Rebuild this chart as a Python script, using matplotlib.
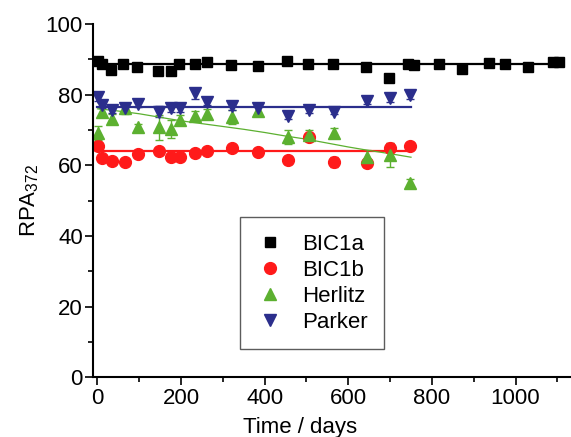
import numpy as np
from matplotlib import pyplot as plt
from matplotlib.ticker import MultipleLocator

plt.rcParams['font.family'] = ['Liberation Sans', 'DejaVu Sans']
plt.rcParams['mathtext.fontset'] = 'custom'
plt.rcParams['mathtext.rm'] = 'Liberation Sans'
plt.rcParams['mathtext.it'] = 'Liberation Sans'

# BIC1a (black squares)
a_days = [2, 10, 33, 62, 94, 144, 175, 196, 233, 261, 320, 384, 453, 504,
          564, 642, 698, 744, 757, 817, 871, 936, 976, 1030, 1090, 1105]
a_rpa = [89.6, 88.7, 87.0, 88.7, 87.9, 86.8, 86.8, 88.7, 88.7, 89.3, 88.4, 88.1, 89.6, 88.7,
         88.7, 87.9, 84.6, 88.7, 88.4, 88.7, 87.3, 89.0, 88.7, 87.9, 89.2, 89.2]
a_err = [0.5] * len(a_days)
a_fit = 88.6

# shared time points for the other series
days = [2, 11, 35, 65, 96, 147, 177, 198, 234, 263, 321, 385, 455, 505, 566, 645, 699, 747]

# BIC1b (red circles)
b_rpa = [65.6, 62.0, 61.3, 60.9, 63.2, 64.1, 62.4, 62.4, 63.4, 64.1, 64.8, 63.7, 61.5, 68.1,
         61.0, 60.6, 65.0, 65.5]
b_err = [0.5, 0.6, 0.5, 0.5, 0.6, 0.8, 0.6, 0.5, 1.0, 0.6, 0.8, 0.6, 1.2, 0.8,
         1.5, 1.0, 1.2, 0.5]
b_fit = 64.05

# Herlitz (green triangles)
h_rpa = [69.1, 75.2, 73.1, 76.1, 70.8, 70.8, 70.2, 72.8, 74.0, 74.5, 73.6, 75.5, 68.1, 68.6,
         69.1, 62.4, 62.9, 55.1]
h_err = [2.0, 1.5, 1.5, 1.5, 1.0, 3.5, 2.5, 1.5, 1.5, 1.5, 2.0, 1.0, 2.0, 1.5,
         1.5, 2.0, 3.5, 1.0]
h_curve_x = [0, 35, 100, 150, 200, 250, 300, 350, 400, 450, 500, 550, 600, 650, 700, 750]
h_curve_y = [76.0, 75.6, 74.6, 73.6, 72.6, 71.8, 71.0, 70.2, 69.3, 68.3, 67.4, 66.3,
             65.2, 64.2, 63.3, 62.3]

# Parker (blue inverted triangles)
p_rpa = [79.3, 77.1, 75.7, 76.1, 77.4, 75.2, 76.1, 76.1, 80.4, 78.0, 76.8, 76.1, 74.0, 75.7,
         75.2, 78.3, 79.0, 79.9]
p_err = [1.0, 1.0, 1.0, 1.0, 0.8, 1.5, 1.0, 1.0, 1.5, 1.0, 1.0, 1.5, 1.0, 1.0,
         0.8, 1.0, 1.0, 1.0]
p_fit = 76.5

black = '#000000'
red = '#ff1a1a'
green = '#5cb030'
blue = '#2b2e8c'

fig = plt.figure(figsize=(5.71, 4.37), dpi=100)
ax = fig.add_axes([0.1634, 0.1366, 0.8346, 0.8084])

eb = dict(linestyle='none', capsize=3, elinewidth=1, capthick=1)
ax.errorbar(a_days, a_rpa, yerr=a_err, marker='s', ms=7.5, color=black, label='BIC1a', **eb)
ax.errorbar(days, b_rpa, yerr=b_err, marker='o', ms=8.5, color=red, label='BIC1b', **eb)
ax.errorbar(days, h_rpa, yerr=h_err, marker='^', ms=8.5, color=green, label='Herlitz', **eb)
ax.errorbar(days, p_rpa, yerr=p_err, marker='v', ms=8.5, color=blue, label='Parker', **eb)

ax.plot([0, 1105], [a_fit, a_fit], color=black, lw=1.6)
ax.plot([0, 750], [b_fit, b_fit], color=red, lw=1.6)
ax.plot([0, 750], [p_fit, p_fit], color=blue, lw=1.6)
ax.plot(h_curve_x, h_curve_y, color=green, lw=0.9)

ax.set_xlim(-10, 1130)
ax.set_ylim(0, 100)
ax.xaxis.set_major_locator(MultipleLocator(200))
ax.xaxis.set_minor_locator(MultipleLocator(100))
ax.yaxis.set_major_locator(MultipleLocator(20))
ax.yaxis.set_minor_locator(MultipleLocator(10))
ax.spines['top'].set_visible(False)
ax.spines['right'].set_visible(False)
ax.spines['left'].set_linewidth(1.5)
ax.spines['bottom'].set_linewidth(1.5)
ax.tick_params(which='major', direction='out', length=5.5, width=1.2, labelsize=16, pad=2)
ax.tick_params(which='minor', direction='out', length=3.5, width=1.2)

ax.set_xlabel('Time / days', fontsize=16)
ax.xaxis.set_label_coords(0.434, -0.112)
ax.set_ylabel('RPA$_{372}$', fontsize=16)
ax.yaxis.set_label_coords(-0.11, 0.5)

handles, labels = ax.get_legend_handles_labels()
handles = [h[0] for h in handles]
leg = ax.legend(handles, labels, loc='upper left', bbox_to_anchor=(0.307, 0.453),
                fontsize=16, frameon=True, fancybox=False, handlelength=1.2,
                handletextpad=0.85, borderpad=0.75, labelspacing=0.22, borderaxespad=0)
leg.get_frame().set_edgecolor('#333333')
leg.get_frame().set_linewidth(1.0)

plt.savefig('out.png', dpi=100)
